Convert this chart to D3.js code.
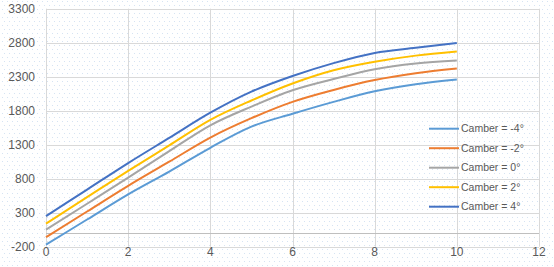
<!DOCTYPE html>
<html><head><meta charset="utf-8">
<script src="https://cdn.jsdelivr.net/npm/d3@7"></script>
<style>body{margin:0;background:#fff}svg{display:block}</style>
</head><body>
<svg id="c" width="554" height="267"></svg>
<script>
const xValues = [0,1,2,3,4,5,6,7,8,9,10];
const seriesNames = ["Camber = -4°","Camber = -2°","Camber = 0°","Camber = 2°","Camber = 4°"];
const camberM4 = [-170,200,570,905,1255,1565,1755,1930,2085,2190,2260];
const camberM2 = [-60,318,695,1050,1405,1690,1930,2105,2250,2350,2420];
const camber0  = [50,432,815,1205,1585,1860,2100,2265,2410,2495,2540];
const camber2  = [140,528,915,1290,1665,1950,2200,2395,2520,2610,2670];
const camber4  = [250,640,1030,1400,1770,2080,2310,2500,2650,2725,2795];
const colors = ["#5B9BD5","#ED7D31","#A5A5A5","#FFC000","#4472C4"];
const xTicks = [0,2,4,6,8,10,12];
const yTicks = [-200,300,800,1300,1800,2300,2800,3300];

const svg = d3.select("#c");
const defs = svg.append("defs");
const pat = defs.append("pattern").attr("id","dots").attr("patternUnits","userSpaceOnUse")
  .attr("width",10).attr("height",8);
[[2,1],[7,1],[4,5],[9,5]].forEach(p=>{
  pat.append("rect").attr("x",p[0]).attr("y",p[1]).attr("width",1).attr("height",1).attr("fill","#d5e3f3");
});
svg.append("rect").attr("width",554).attr("height",267).attr("fill","url(#dots)");

const x = d3.scaleLinear().domain([0,12]).range([46,539]);
const y = d3.scaleLinear().domain([-200,3300]).range([246.7,8.7]);

const grid = svg.append("g");
grid.selectAll(".h").data(yTicks).join("line")
  .attr("x1",x(0)).attr("x2",x(12))
  .attr("y1",d=>Math.round(y(d))+0.5).attr("y2",d=>Math.round(y(d))+0.5)
  .attr("stroke","#d9d9d9").attr("stroke-width",1);
grid.selectAll(".v").data(xTicks).join("line")
  .attr("y1",y(-200)).attr("y2",y(3300))
  .attr("x1",d=>Math.round(x(d))+0.5).attr("x2",d=>Math.round(x(d))+0.5)
  .attr("stroke","#d9d9d9").attr("stroke-width",1);
svg.append("line").attr("x1",x(0)).attr("x2",x(12))
  .attr("y1",Math.round(y(0))+0.5).attr("y2",Math.round(y(0))+0.5)
  .attr("stroke","#bfbfbf").attr("stroke-width",1);

const font = "'Liberation Sans', Arial, sans-serif";
svg.append("g").selectAll("text").data(yTicks).join("text")
  .attr("x",35).attr("y",d=>y(d)).attr("dy","0.35em").attr("text-anchor","end")
  .attr("font-family",font).attr("font-size",12).attr("fill","#595959").text(d=>d);
svg.append("g").selectAll("text").data(xTicks).join("text")
  .attr("x",d=>x(d)).attr("y",255.5).attr("text-anchor","middle")
  .attr("font-family",font).attr("font-size",12).attr("fill","#595959").text(d=>d);

const allSeries = [camberM4,camberM2,camber0,camber2,camber4];
const line = d3.line().x((d,i)=>x(xValues[i])).y(d=>y(d)).curve(d3.curveMonotoneX);
svg.append("g").selectAll("path").data(allSeries).join("path")
  .attr("d",line).attr("fill","none").attr("stroke",(d,i)=>colors[i]).attr("stroke-width",2);

const leg = svg.append("g");
seriesNames.forEach((n,i)=>{
  const yy = 128.7 + i*19.5;
  leg.append("line").attr("x1",429).attr("x2",459).attr("y1",yy).attr("y2",yy)
    .attr("stroke",colors[i]).attr("stroke-width",2);
  leg.append("text").attr("x",461).attr("y",yy).attr("dy","0.35em")
    .attr("font-family",font).attr("font-size",10.5).attr("fill","#595959").text(n);
});
</script>
</body></html>
